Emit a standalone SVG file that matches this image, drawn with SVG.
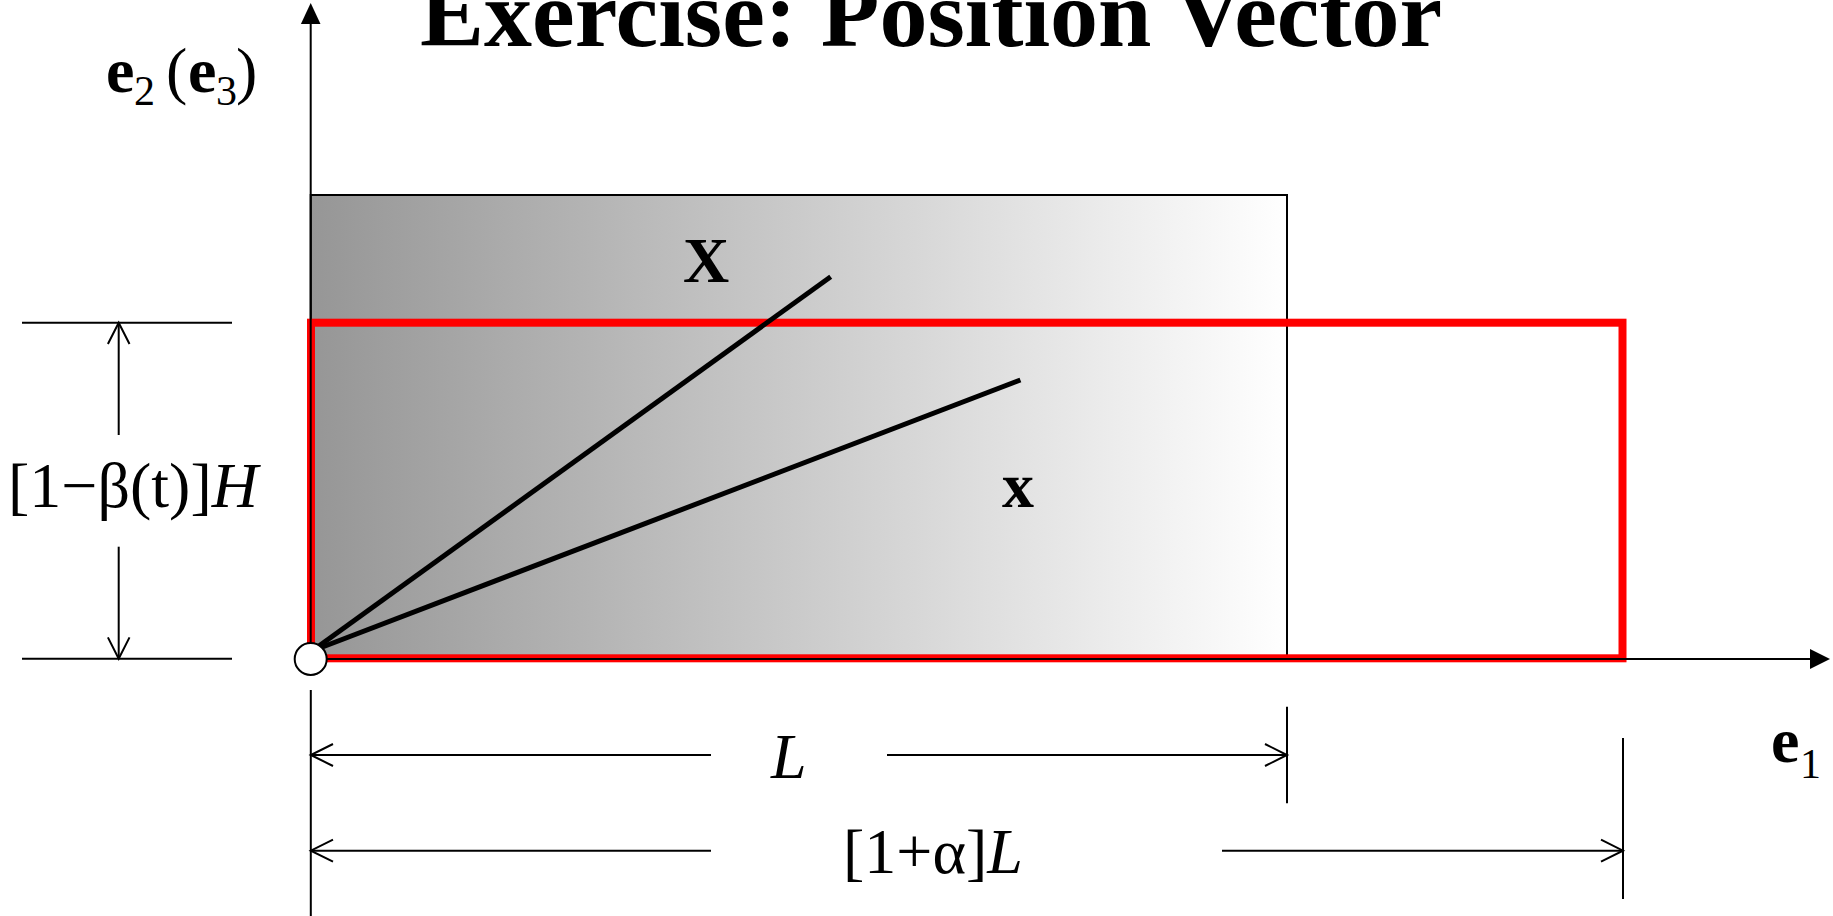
<svg xmlns="http://www.w3.org/2000/svg" width="1833" height="916" viewBox="0 0 1833 916">
<defs>
<linearGradient id="g" x1="0" y1="0" x2="1" y2="0">
<stop offset="0" stop-color="#969696"/>
<stop offset="1" stop-color="#ffffff"/>
</linearGradient>
<style>
.t{font-family:"Liberation Serif","Times New Roman",serif;fill:#000}
.b{font-weight:bold}
.i{font-style:italic}
.thin{stroke:#000;stroke-width:2;fill:none}
.vec{stroke:#000;stroke-width:5;fill:none}
</style>
</defs>
<rect width="1833" height="916" fill="#fff"/>
<text class="t b" x="420" y="46" font-size="96">Exercise: Position Vector</text>
<g id="initial-body">
<rect x="310.7" y="195" width="976.3" height="464" fill="url(#g)" stroke="#000" stroke-width="2"/>
</g>
<g id="deformed-body">
<rect x="311" y="322.7" width="1311.5" height="335.6" fill="none" stroke="#ff0000" stroke-width="8"/>
</g>
<g id="connectors">
<line class="thin" x1="310.7" y1="659" x2="310.7" y2="22"/>
<polygon points="310.7,3 300.9,24 320.5,24" fill="#000"/>
<line class="thin" x1="310.7" y1="659" x2="1811" y2="659"/>
<polygon points="1830,659 1810,649 1810,669" fill="#000"/>
<line class="vec" x1="312" y1="651" x2="830.7" y2="276.7"/>
<line class="vec" x1="312" y1="651" x2="1020.4" y2="380"/>
<line class="thin" x1="22" y1="322.7" x2="232" y2="322.7"/>
<line class="thin" x1="22" y1="658.7" x2="232" y2="658.7"/>
<line class="thin" x1="118.7" y1="322.7" x2="118.7" y2="435"/>
<line class="thin" x1="118.7" y1="546.7" x2="118.7" y2="658.7"/>
<polyline class="thin" points="107.9,344 118.7,322.7 129.5,344"/>
<polyline class="thin" points="107.9,637.4 118.7,658.7 129.5,637.4"/>
<line class="thin" x1="310.8" y1="690" x2="310.8" y2="916"/>
<line class="thin" x1="1287" y1="706.7" x2="1287" y2="803.3"/>
<line class="thin" x1="1623" y1="738" x2="1623" y2="899"/>
<line class="thin" x1="310.8" y1="755" x2="711" y2="755"/>
<line class="thin" x1="887" y1="755" x2="1287" y2="755"/>
<polyline class="thin" points="333,744 310.8,755 333,766"/>
<polyline class="thin" points="1265,744 1287,755 1265,766"/>
<line class="thin" x1="310.8" y1="850.7" x2="711" y2="850.7"/>
<line class="thin" x1="1222" y1="850.7" x2="1623" y2="850.7"/>
<polyline class="thin" points="333,839.7 310.8,850.7 333,861.7"/>
<polyline class="thin" points="1601,839.7 1623,850.7 1601,861.7"/>
</g>
<g id="origin">
<circle cx="310.7" cy="659" r="16" fill="#fff" stroke="#000" stroke-width="2"/>
</g>
<g id="labels">
<text class="t" font-size="64" x="106" y="92"><tspan class="b">e</tspan><tspan font-size="42" x="134" y="105">2</tspan><tspan x="166" y="92">(</tspan><tspan class="b" x="188" y="92">e</tspan><tspan font-size="42" x="216" y="105">3</tspan><tspan x="236" y="92">)</tspan></text>
<text class="t b" font-size="64" x="683" y="282">X</text>
<text class="t b" font-size="64" x="1002" y="507">x</text>
<text class="t" font-size="64" x="8" y="507">[1−β(t)]<tspan class="i">H</tspan></text>
<text class="t i" font-size="64" x="771" y="778">L</text>
<text class="t" font-size="64" x="843" y="873">[1+α]<tspan class="i">L</tspan></text>
<text class="t" font-size="64" x="1771" y="762"><tspan class="b">e</tspan><tspan font-size="42" x="1800" y="778">1</tspan></text>
</g>
</svg>
